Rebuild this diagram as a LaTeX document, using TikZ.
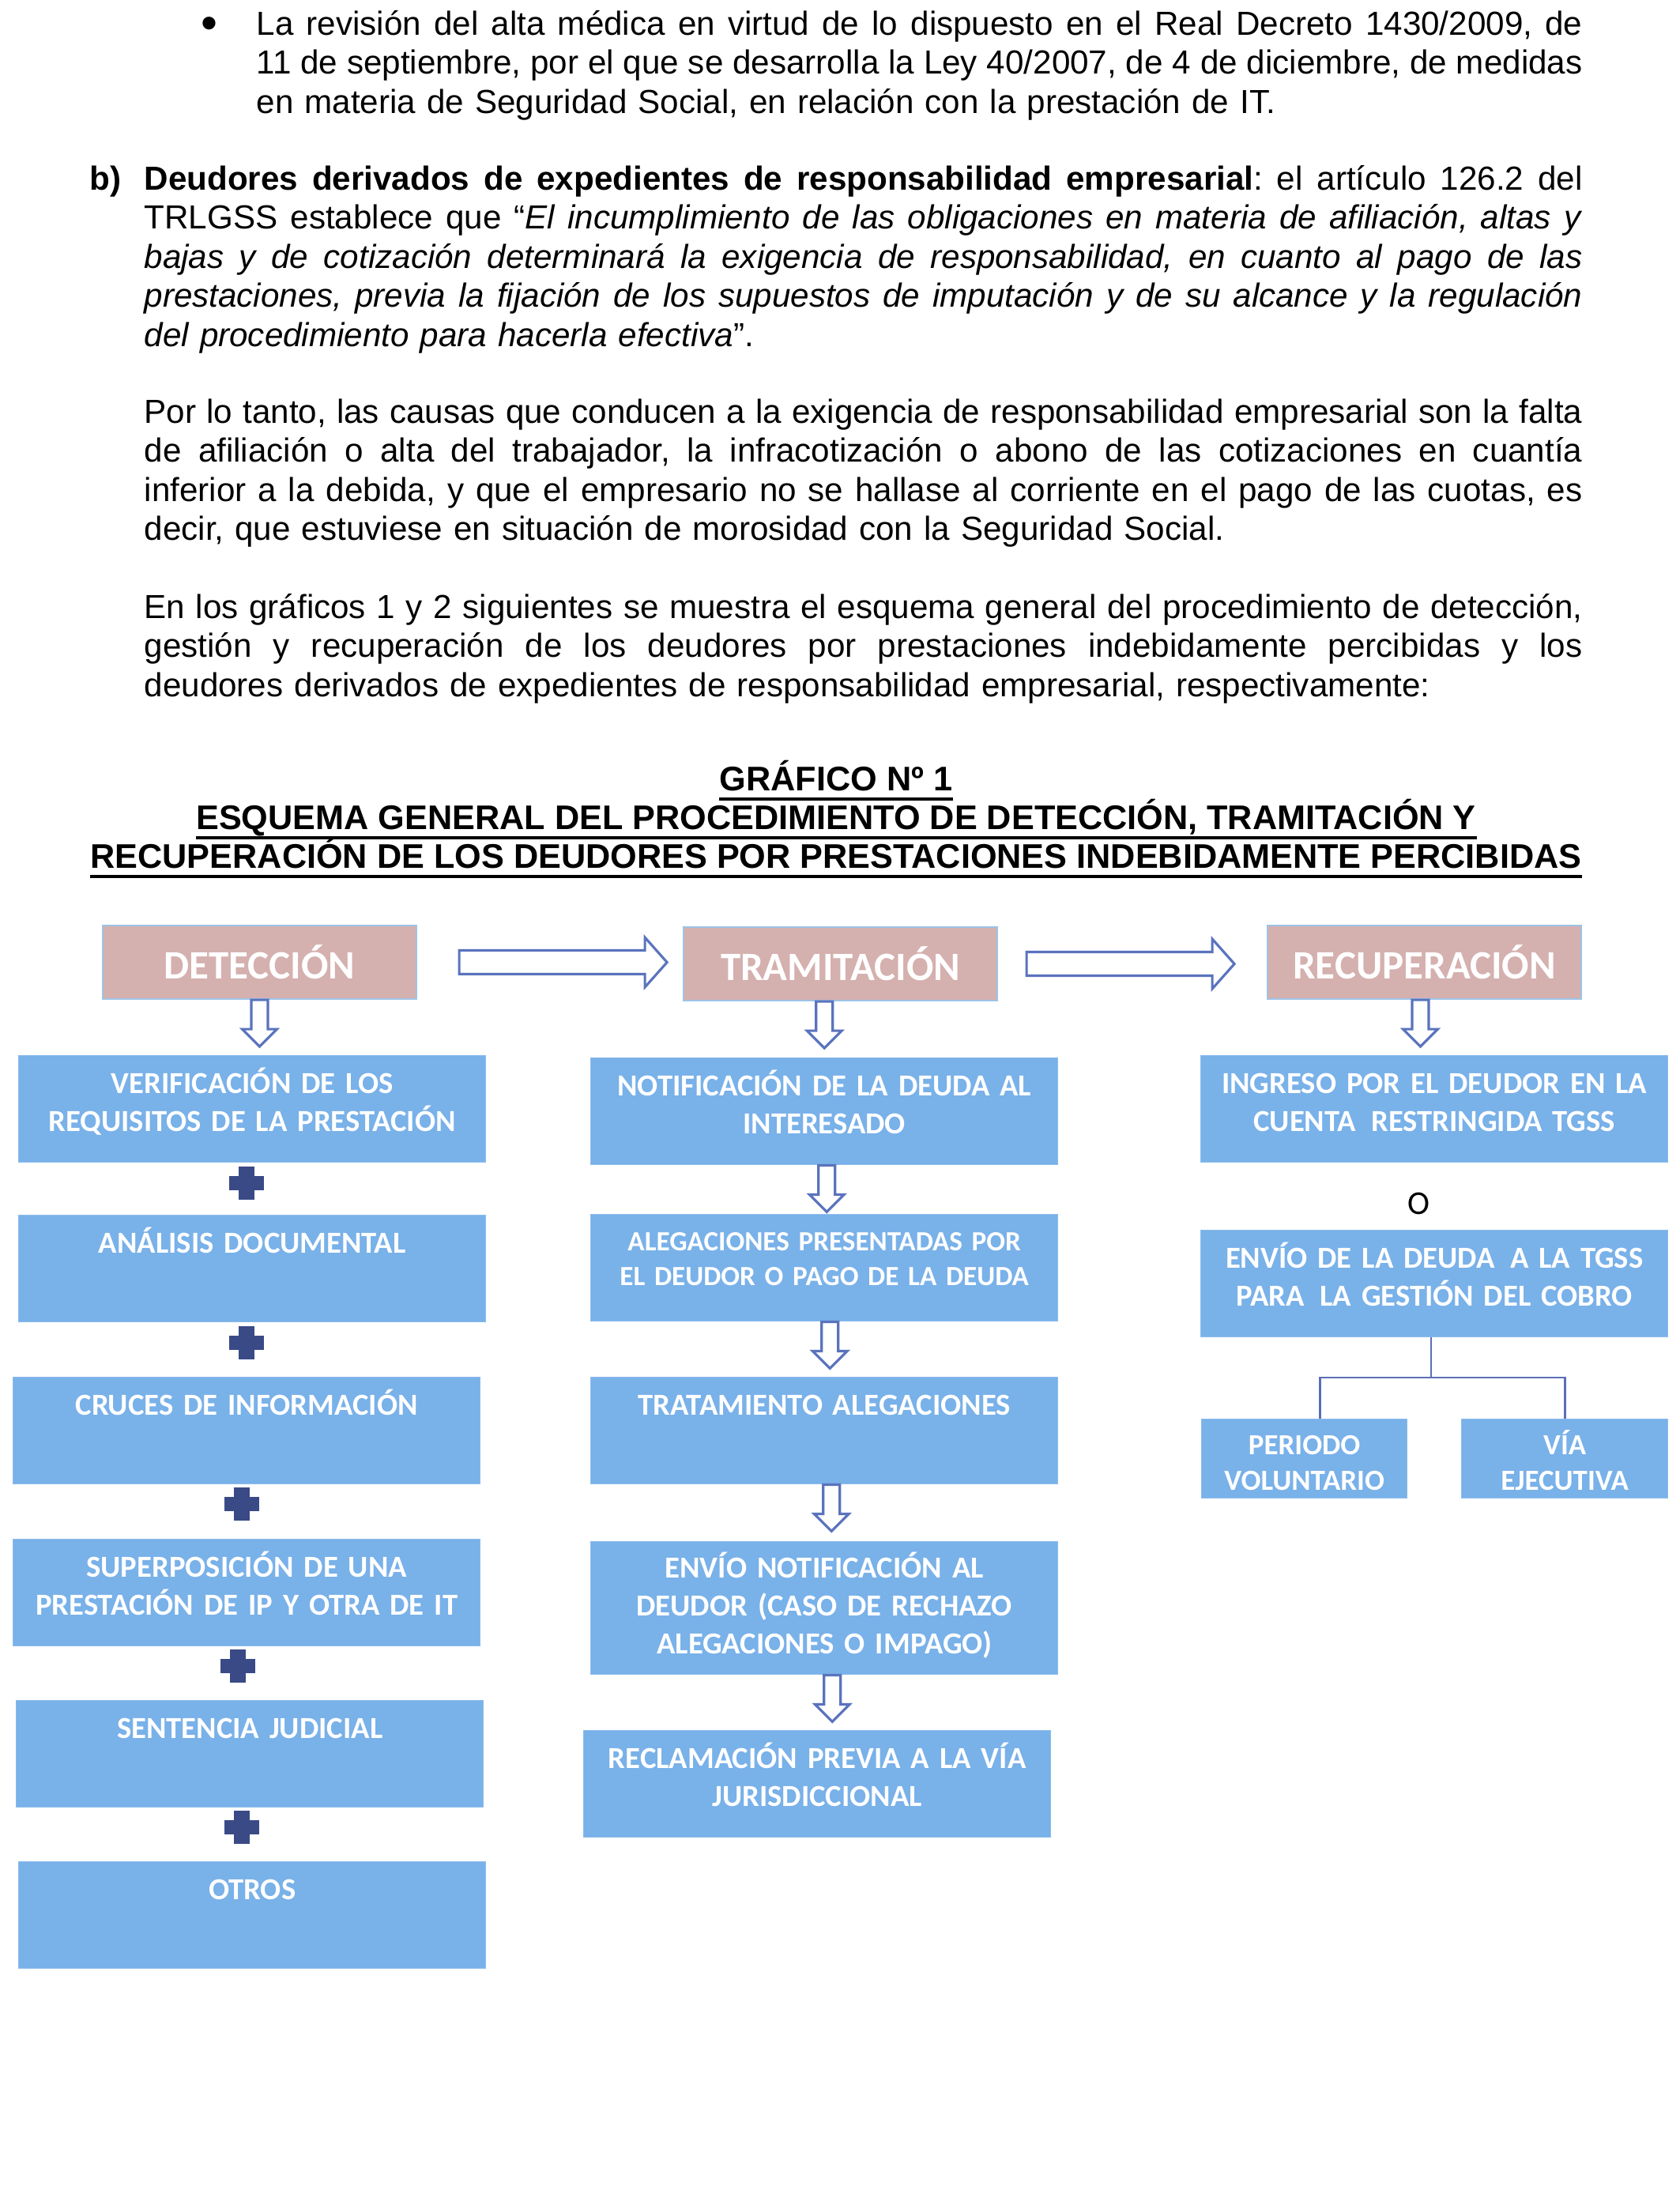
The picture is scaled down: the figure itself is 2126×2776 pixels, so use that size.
\documentclass[tikz,border=0pt]{standalone}
\usepackage{fontspec}
\setmainfont{Liberation Sans}
\newfontfamily\boxfont{Carlito}
\usetikzlibrary{positioning}
\frenchspacing

\definecolor{boxblue}{HTML}{79B1E9}
\definecolor{boxedge}{HTML}{8CBCEC}
\definecolor{headpink}{HTML}{D4B0AE}
\definecolor{headedge}{HTML}{9DC3E6}
\definecolor{arrowblue}{HTML}{5A73BD}
\definecolor{plusblue}{HTML}{3A4A86}
\definecolor{linkblue}{HTML}{5B6FB6}

% linea justificada a un ancho dado
\newcommand{\fullline}[2]{\makebox[#1][s]{\spaceskip=3.3pt plus 6pt minus 1.3pt\relax #2}}

\tikzset{
  bodytext/.style={anchor=base west, inner sep=0pt, align=left, font=\fontsize{12}{14.1}\selectfont},
  titletext/.style={anchor=base, inner sep=0pt, font=\bfseries\fontsize{12.3}{14}\selectfont},
  titleline/.style={line width=0.4mm},
  headbox/.style={draw=headedge, line width=0.6pt, fill=headpink, text=white,
    font=\boxfont\bfseries\fontsize{14.5}{17}\selectfont,
    minimum width=39.7mm, minimum height=9.3mm, inner sep=0pt, anchor=north west},
  stepbox/.style={draw=boxedge, line width=0.4pt, fill=boxblue, text=white,
    font=\boxfont\bfseries\fontsize{11}{13.6}\selectfont, align=center,
    inner xsep=1.5mm, inner ysep=0pt, text width=56.1mm,
    text height=4.8mm, text depth=8.7mm, anchor=north west},
  smallbox/.style={stepbox, text width=23mm, font=\boxfont\bfseries\fontsize{10.5}{12.8}\selectfont,
    text height=4.5mm, text depth=5.5mm},
  arrowline/.style={draw=arrowblue, line width=0.9pt, fill=white, line join=miter},
  treeline/.style={draw=linkblue, line width=0.8pt},
  downarrow/.pic={\path[arrowline] (-10.5,0) -- (-10.5,37) -- (-22,37) -- (0,59)
    -- (22,37) -- (10.5,37) -- (10.5,0) -- cycle;},
  rightarrow/.pic={\path[arrowline] (0,-15) -- (235,-15) -- (235,-31.5) -- (263,0)
    -- (235,31.5) -- (235,15) -- (0,15) -- cycle;},
  pluspic/.pic={\fill[plusblue] (-22,-9) rectangle (22,9); \fill[plusblue] (-10,-21) rectangle (10,21);}
}

\begin{document}
\begin{tikzpicture}[x=0.1mm,y=-0.1mm]
\useasboundingbox (0,0) rectangle (2126,2776);

% texto previo
\node[inner sep=0pt, font=\fontsize{17}{18}\selectfont] (bullet) at (265,36) {\textbullet};
\node[bodytext, text width=167.8mm] (revision) at (324,44) {%
\fullline{167.8mm}{La revisión del alta médica en virtud de lo dispuesto en el Real Decreto 1430/2009, de}\\
\fullline{167.8mm}{11 de septiembre, por el que se desarrolla la Ley 40/2007, de 4 de diciembre, de medidas}\\
en materia de Seguridad Social, en relación con la prestación de IT.};

\node[bodytext, font=\bfseries\fontsize{12}{14.1}\selectfont] (bmark) at (113,240) {b)};
\node[bodytext, text width=182mm] (deudores) at (182,240) {%
\fullline{182mm}{\textbf{Deudores derivados de expedientes de responsabilidad empresarial}: el artículo 126.2 del}\\
\fullline{182mm}{TRLGSS establece que “\textit{El incumplimiento de las obligaciones en materia de afiliación, altas y}}\\
\fullline{182mm}{\textit{bajas y de cotización determinará la exigencia de responsabilidad, en cuanto al pago de las}}\\
\fullline{182mm}{\textit{prestaciones, previa la fijación de los supuestos de imputación y de su alcance y la regulación}}\\
\textit{del procedimiento para hacerla efectiva}”.};

\node[bodytext, text width=182mm] (causas) at (182,535) {%
\fullline{182mm}{Por lo tanto, las causas que conducen a la exigencia de responsabilidad empresarial son la falta}\\
\fullline{182mm}{de afiliación o alta del trabajador, la infracotización o abono de las cotizaciones en cuantía}\\
\fullline{182mm}{inferior a la debida, y que el empresario no se hallase al corriente en el pago de las cuotas, es}\\
decir, que estuviese en situación de morosidad con la Seguridad Social.};

\node[bodytext, text width=182mm] (graficos) at (182,782) {%
\fullline{182mm}{En los gráficos 1 y 2 siguientes se muestra el esquema general del procedimiento de detección,}\\
\fullline{182mm}{gestión y recuperación de los deudores por prestaciones indebidamente percibidas y los}\\
deudores derivados de expedientes de responsabilidad empresarial, respectivamente:};

% titulo
\node[titletext] (t1) at (1058,1000) {GRÁFICO Nº 1};
\node[titletext] (t2) at (1058,1049) {ESQUEMA GENERAL DEL PROCEDIMIENTO DE DETECCIÓN, TRAMITACIÓN Y};
\node[titletext] (t3) at (1058,1098) {RECUPERACIÓN DE LOS DEUDORES POR PRESTACIONES INDEBIDAMENTE PERCIBIDAS};
\foreach \t in {t1,t2,t3}
  \draw[titleline] ([yshift=-1.1mm]\t.base west) -- ([yshift=-1.1mm]\t.base east);

% cabeceras
\node[headbox] (det) at (129,1170) {DETECCIÓN};
\node[headbox] (tram) at (864,1172) {TRAMITACIÓN};
\node[headbox] (recup) at (1603,1170) {RECUPERACIÓN};
\pic at ([xshift=5.3mm]det.east) {rightarrow};
\pic at ([xshift=3.6mm]tram.east) {rightarrow};

% deteccion
\node[stepbox] (verif) at (23,1335) {VERIFICACIÓN DE LOS\\REQUISITOS DE LA PRESTACIÓN};
\node[stepbox] (analisis) at (23,1537) {ANÁLISIS DOCUMENTAL};
\node[stepbox] (cruces) at (16,1742) {CRUCES DE INFORMACIÓN};
\node[stepbox] (superpos) at (16,1947) {SUPERPOSICIÓN DE UNA\\PRESTACIÓN DE IP Y OTRA DE IT};
\node[stepbox] (sentencia) at (20,2151) {SENTENCIA JUDICIAL};
\node[stepbox] (otros) at (23,2355) {OTROS};
\pic at (det.south) {downarrow};
\foreach \xp/\yp in {312/1497, 312/1699, 306/1903, 301/2108, 306/2312}
  \pic at (\xp,\yp) {pluspic};

% tramitacion
\node[stepbox] (notif) at (747,1338) {NOTIFICACIÓN DE LA DEUDA AL\\INTERESADO};
\node[stepbox, font=\boxfont\bfseries\fontsize{10}{12.5}\selectfont, text height=4.6mm, text depth=8.9mm] (alegac) at (747,1536) {ALEGACIONES PRESENTADAS POR\\EL DEUDOR O PAGO DE LA DEUDA};
\node[stepbox] (tratam) at (747,1742) {TRATAMIENTO ALEGACIONES};
\node[stepbox, text height=4.6mm, text depth=12.2mm] (envionot) at (747,1950) {ENVÍO NOTIFICACIÓN AL\\DEUDOR (CASO DE RECHAZO\\ALEGACIONES O IMPAGO)};
\node[stepbox] (reclam) at (738,2189) {RECLAMACIÓN PREVIA A LA VÍA\\JURISDICCIONAL};
\pic at (tram.south -| notif.north) {downarrow};
\pic at ([xshift=0.3mm]notif.south) {downarrow};
\pic at ([xshift=0.7mm]alegac.south) {downarrow};
\pic at ([xshift=0.9mm]tratam.south) {downarrow};
\pic at ([xshift=1mm]envionot.south) {downarrow};

% recuperacion
\node[stepbox] (ingreso) at (1519,1335) {INGRESO POR EL DEUDOR EN LA\\CUENTA\, RESTRINGIDA TGSS};
\node[font=\boxfont\fontsize{12}{14}\selectfont, inner sep=0pt] (orword) at (1795,1523) {O};
\node[stepbox] (enviodeuda) at (1519,1556) {ENVÍO DE LA DEUDA\, A LA TGSS\\PARA\, LA GESTIÓN DEL COBRO};
\node[smallbox] (periodo) at (1520,1795) {PERIODO\\VOLUNTARIO};
\node[smallbox, text width=23.1mm] (via) at (1849,1795) {VÍA\\EJECUTIVA};
\pic at ([xshift=-0.5mm]recup.south) {downarrow};
\coordinate (split) at (1811,1743);
\draw[treeline] (enviodeuda.south -| split) -- (split);
\draw[treeline] ([xshift=2mm]periodo.north) |- (split) -| (via.north);

\end{tikzpicture}
\end{document}
